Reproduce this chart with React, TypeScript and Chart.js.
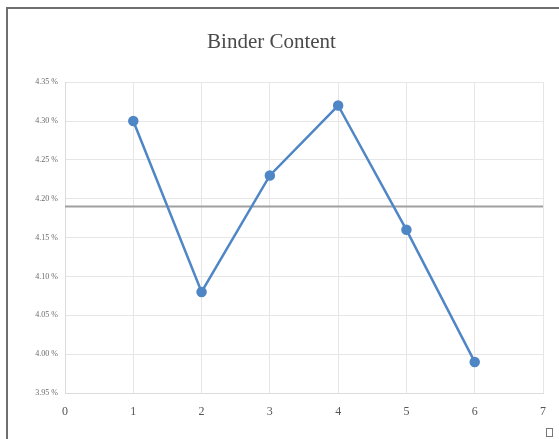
import React, { useEffect, useRef } from "react";
import { Chart, registerables } from "chart.js";

Chart.register(...registerables);

// Sample number along the x axis and measured binder content (%)
const sampleNumbers = [1, 2, 3, 4, 5, 6];
const binderContent = [4.3, 4.08, 4.23, 4.32, 4.16, 3.99];

// Reference level drawn across the full x range
const referenceX = [0, 7];
const referenceLevel = 4.19;

const xTicks = [0, 1, 2, 3, 4, 5, 6, 7];
const yMin = 3.95;
const yMax = 4.35;
const yStep = 0.05;

export default function App() {
  const canvasRef = useRef<HTMLCanvasElement | null>(null);

  useEffect(() => {
    if (!canvasRef.current) return;
    const chart = new Chart(canvasRef.current, {
      type: "line",
      data: {
        datasets: [
          {
            label: "Binder Content",
            data: sampleNumbers.map((x, i) => ({ x, y: binderContent[i] })),
            borderColor: "#4f86c5",
            backgroundColor: "#4f86c5",
            borderWidth: 2.5,
            pointRadius: 4,
            pointHoverRadius: 4,
            pointBackgroundColor: "#4f86c5",
            pointBorderColor: "#4f86c5",
            tension: 0,
            order: 1,
          },
          {
            label: "Reference",
            data: referenceX.map((x) => ({ x, y: referenceLevel })),
            borderColor: "#a0a0a0",
            borderWidth: 2,
            pointRadius: 0,
            tension: 0,
            order: 2,
          },
        ],
      },
      options: {
        responsive: false,
        animation: false,
        layout: { padding: { top: 20, right: 16, bottom: 0, left: 0 } },
        plugins: {
          legend: { display: false },
          tooltip: { enabled: false },
          title: {
            display: true,
            text: "Binder Content",
            color: "#4a4a4a",
            font: { family: "'Liberation Serif', serif", size: 21, weight: "normal" },
            padding: { top: 10, bottom: 27 },
          },
        },
        scales: {
          x: {
            type: "linear",
            min: xTicks[0],
            max: xTicks[xTicks.length - 1],
            afterBuildTicks: (scale: any) => {
              scale.ticks = xTicks.map((v) => ({ value: v }));
            },
            afterFit: (scale: any) => {
              scale.height = 46;
            },
            grid: { color: "#e6e6e6", lineWidth: 1, drawTicks: false },
            border: { color: "#dcdcdc" },
            ticks: {
              padding: 12,
              color: "#555555",
              font: { family: "'Liberation Serif', serif", size: 12 },
              maxRotation: 0,
            },
          },
          y: {
            type: "linear",
            min: yMin,
            max: yMax,
            afterBuildTicks: (scale: any) => {
              const ticks = [];
              for (let i = 0; i <= Math.round((yMax - yMin) / yStep); i++) {
                ticks.push({ value: +(yMin + i * yStep).toFixed(2) });
              }
              scale.ticks = ticks;
            },
            afterFit: (scale: any) => {
              scale.width = 65;
            },
            grid: { color: "#e6e6e6", lineWidth: 1, drawTicks: false },
            border: { color: "#dcdcdc" },
            ticks: {
              padding: 7,
              color: "#6a6a6a",
              font: { family: "'Liberation Serif', serif", size: 8 },
              callback: (v: any) => Number(v).toFixed(2) + " %",
            },
          },
        },
      },
    });
    return () => chart.destroy();
  }, []);

  return (
    <div
      style={{
        position: "fixed",
        left: 0,
        top: 0,
        width: 559,
        height: 439,
        background: "#ffffff",
        overflow: "hidden",
      }}
    >
      <div
        style={{
          position: "absolute",
          left: 6,
          top: 7,
          width: 600,
          height: 500,
          border: "2px solid #6f6f6f",
          boxSizing: "border-box",
        }}
      />
      <canvas
        ref={canvasRef}
        width={559}
        height={439}
        style={{ position: "absolute", left: 0, top: 0, width: 559, height: 439 }}
      />
      <div
        style={{
          position: "absolute",
          left: 546,
          top: 428,
          width: 7,
          height: 9,
          border: "1px solid #777777",
          boxSizing: "border-box",
          background: "#ffffff",
        }}
      />
    </div>
  );
}
